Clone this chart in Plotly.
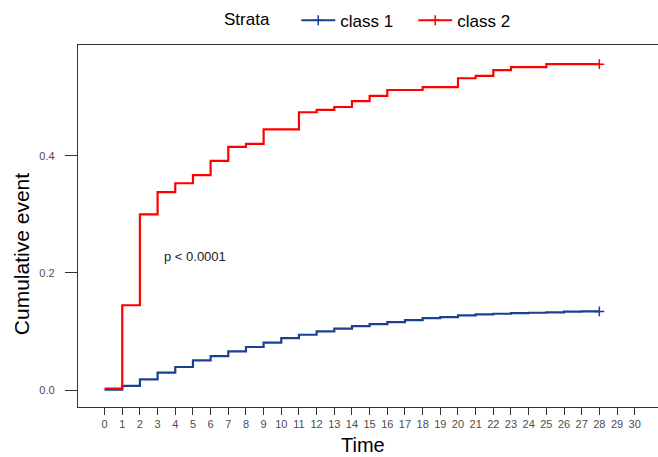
import plotly.graph_objects as go

# ---- data ----
time_c1 = list(range(0, 29))
cum_c1 = [0.001, 0.0074, 0.0187, 0.030, 0.0397, 0.051, 0.0584, 0.0664, 0.0738, 0.0811,
          0.089, 0.0947, 0.1004, 0.105, 0.1095, 0.1129, 0.1163, 0.1197, 0.1231, 0.1248,
          0.1277, 0.1294, 0.1305, 0.1316, 0.1322, 0.1328, 0.134, 0.1345, 0.1345]

time_c2 = [0, 1, 2, 3, 4, 5, 6, 7, 8, 9, 11, 12, 13, 14, 15, 16, 18, 20, 21, 22, 23, 25, 28]
cum_c2 = [0.003, 0.145, 0.300, 0.338, 0.353, 0.367, 0.391, 0.415, 0.420, 0.445, 0.474,
          0.478, 0.483, 0.493, 0.502, 0.512, 0.517, 0.532, 0.536, 0.546, 0.551, 0.556, 0.556]

strata_names = ["class 1", "class 2"]
strata_colors = ["#1B3F91", "#FF0000"]
x_ticks = list(range(0, 31))
y_ticks = [0.0, 0.2, 0.4]
y_ticktext = ["0.0", "0.2", "0.4"]
pval_text = "p < 0.0001"

FONT = "Liberation Sans, Arial, sans-serif"

fig = go.Figure()
for name, color, t, v in zip(strata_names, strata_colors,
                             [time_c1, time_c2], [cum_c1, cum_c2]):
    fig.add_trace(go.Scatter(x=t, y=v, mode="lines", line_shape="hv",
                             line=dict(color=color, width=2.2),
                             showlegend=False, legendgroup=name, hoverinfo="x+y"))
    # censor mark at the end (also serves as legend entry: line + '+')
    fig.add_trace(go.Scatter(x=[t[-1]], y=[v[-1]], mode="lines+markers", name=name,
                             legendgroup=name,
                             line=dict(color=color, width=2.2),
                             marker=dict(symbol="cross-thin", size=7,
                                         line=dict(color=color, width=1.5))))

fig.add_annotation(x=5.11, y=0.2275, xref="x", yref="y", text=pval_text,
                   showarrow=False, font=dict(family=FONT, size=13, color="#222222"),
                   xanchor="center", yanchor="middle")

# axis titles
fig.add_annotation(x=(363 - 78) / 580, y=(406.7 - 445) / 361.7, xref="paper", yref="paper",
                   text="Time", showarrow=False, font=dict(family=FONT, size=20, color="black"),
                   xanchor="center", yanchor="middle")
fig.add_annotation(x=(21 - 78) / 580, y=(406.7 - 254) / 361.7, xref="paper", yref="paper",
                   text="Cumulative event", textangle=-90, showarrow=False,
                   font=dict(family=FONT, size=21, color="black"),
                   xanchor="center", yanchor="middle")

fig.update_layout(
    width=658, height=457,
    margin=dict(l=78, r=0, t=45, b=50, pad=0),
    paper_bgcolor="white", plot_bgcolor="white",
    font=dict(family=FONT, color="black"),
    legend=dict(orientation="h", xref="container", yref="container",
                x=222 / 658, xanchor="left", y=1 - 20.7 / 457, yanchor="middle",
                title=dict(text="Strata&nbsp;&nbsp;&nbsp;&nbsp;",
                           font=dict(family=FONT, size=17, color="black")),
                font=dict(family=FONT, size=17, color="black"),
                itemwidth=34, entrywidth=68, traceorder="normal"),
    xaxis=dict(range=[-1.505, 31.32], tickmode="array", tickvals=x_ticks,
               ticktext=[str(v) for v in x_ticks],
               showgrid=False, zeroline=False,
               showline=True, linecolor="#333333", linewidth=1.3, mirror=True,
               ticks="outside", ticklen=7, tickwidth=1, tickcolor="#333333",
               tickfont=dict(family=FONT, size=11, color="#4D4D4D")),
    yaxis=dict(range=[-0.0285, 0.5887], tickmode="array", tickvals=y_ticks,
               ticktext=y_ticktext,
               showgrid=False, zeroline=False,
               showline=True, linecolor="#333333", linewidth=1.3,
               ticks="outside", ticklen=12, tickwidth=1, tickcolor="#333333",
               ticklabelstandoff=8,
               tickfont=dict(family=FONT, size=11, color="#4D4D4D")),
)

fig.write_html("out.html")
